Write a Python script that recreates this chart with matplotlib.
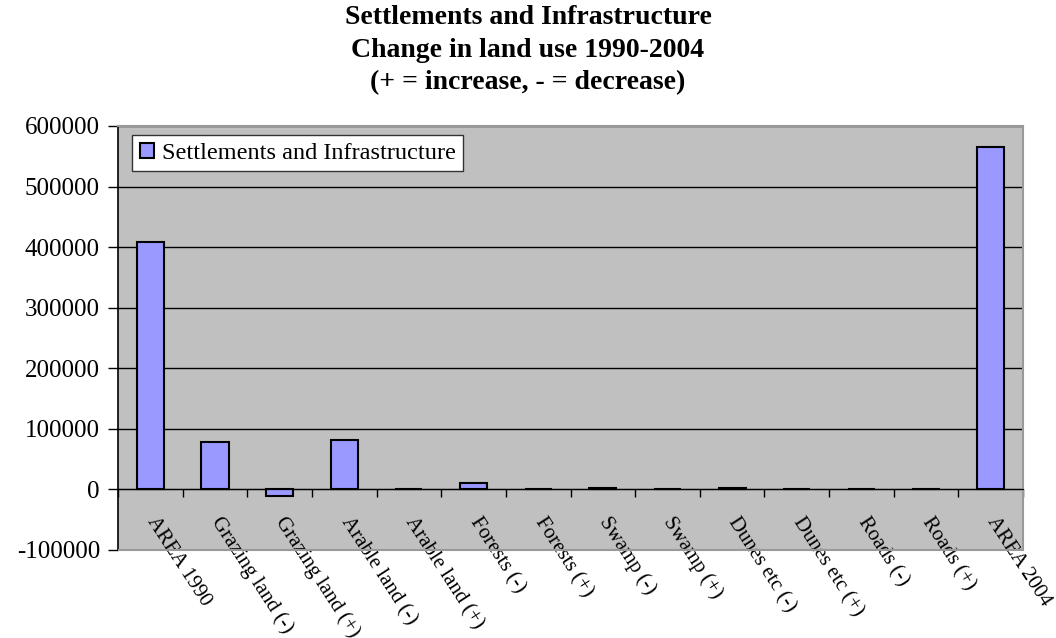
import matplotlib
matplotlib.use("Agg")
import matplotlib.pyplot as plt
import numpy as np
from matplotlib.patches import Rectangle

categories = ["AREA 1990", "Grazing land (-)", "Grazing land (+)", "Arable land (-)",
              "Arable land (+)", "Forests (-)", "Forests (+)", "Swamp (-)", "Swamp (+)",
              "Dunes etc (-)", "Dunes etc (+)", "Roads (-)", "Roads (+)", "AREA 2004"]
values = [408000, 78000, -11000, 81000, 0, 10000, 0, 2000, 0, 2000, 0, 0, 0, 565000]
series_name = "Settlements and Infrastructure"
title = "Settlements and Infrastructure\nChange in land use 1990-2004\n(+ = increase, - = decrease)"
yticks = [-100000, 0, 100000, 200000, 300000, 400000, 500000, 600000]

plt.rcParams['font.family'] = ['Liberation Serif', 'DejaVu Serif']

fig = plt.figure(figsize=(10.56, 6.38), dpi=100)
ax = fig.add_axes([118/1056, 1 - 550/638, (1023-118)/1056, (550-126)/638])
ax.set_facecolor('#C0C0C0')

x = np.arange(len(categories))
ax.bar(x, values, width=0.42, color='#9999FF', edgecolor='black', linewidth=1.5,
       label=series_name, zorder=3)

ax.set_xlim(-0.5, len(categories) - 0.5)
ax.set_ylim(yticks[0], yticks[-1])
ax.set_yticks(yticks)
ax.set_yticklabels([str(v) for v in yticks], fontsize=18)
ax.yaxis.grid(True, color='black', linewidth=1.0, zorder=1)
ax.set_axisbelow(True)
ax.tick_params(axis='y', direction='out', length=7, width=1, color='black', pad=6)

# x axis at zero
ax.spines['bottom'].set_position(('data', 0))
ax.spines['bottom'].set_color('black')
ax.spines['bottom'].set_zorder(4)
ax.spines['left'].set_color('black')
ax.spines['left'].set_linewidth(1.2)
ax.spines['top'].set_color('#999999')
ax.spines['right'].set_color('#999999')
ax.spines['top'].set_linewidth(1.5)
ax.spines['right'].set_linewidth(1.5)

ax.set_xticks(np.arange(-0.5, len(categories) + 0.5, 1.0))
ax.set_xticklabels([])
ax.tick_params(axis='x', which='major', direction='out', length=6, width=1, color='black')
ax.set_xticks(x, minor=True)
ax.set_xticklabels(categories, minor=True, fontsize=15, rotation=-57,
                   ha='left', va='center', rotation_mode='anchor')
ax.tick_params(axis='x', which='minor', length=0, pad=21)

# bottom border of plot area
ax.add_patch(Rectangle((0, 0), 1, 0.0, transform=ax.transAxes, fill=False,
                       edgecolor='#999999', linewidth=1.5, clip_on=False, zorder=5))

leg = ax.legend(loc='upper left', bbox_to_anchor=(0.016, 0.978), fontsize=17.5,
                frameon=True, fancybox=False, framealpha=1, edgecolor='#333333',
                handlelength=0.6, handleheight=0.6, handletextpad=0.3,
                borderpad=0.3, borderaxespad=0)
leg.get_frame().set_linewidth(1.0)

fig.text(0.5, 1 - 5/638, title, fontsize=20, fontweight='bold', ha='center', va='top',
         linespacing=1.4)

fig.savefig('out.png', dpi=100)
